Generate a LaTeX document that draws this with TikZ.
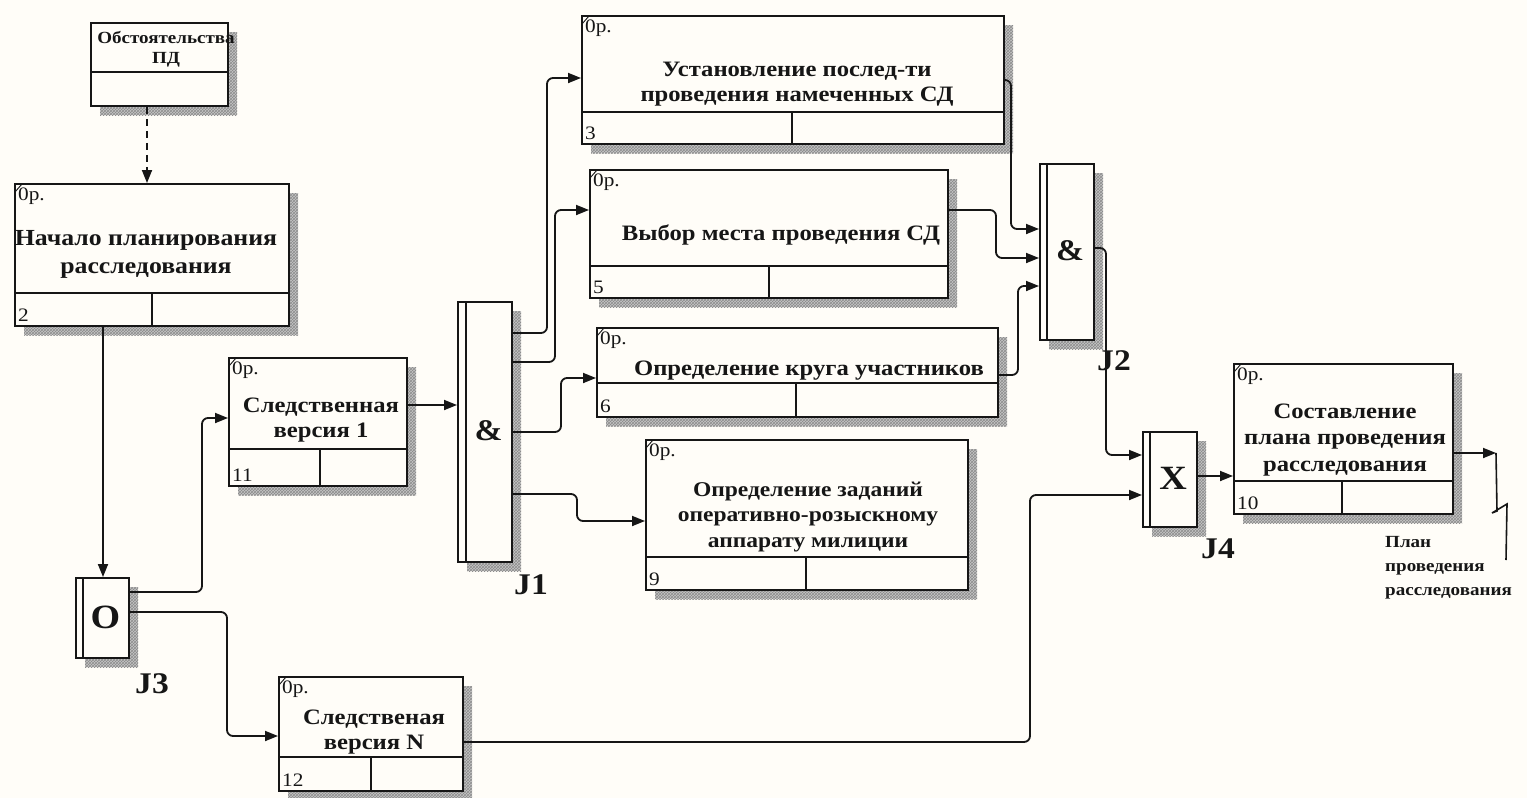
\documentclass[tikz,border=0pt]{standalone}
\usepackage{fontspec}
\setmainfont{Liberation Serif}[FakeStretch=1.12]
\usetikzlibrary{arrows.meta,patterns}

\definecolor{paper}{RGB}{255,253,248}
\definecolor{ink}{RGB}{22,22,22}

\tikzset{
  every node/.style={text=ink},
  boxshape/.style={draw=ink, line width=1.9pt, fill=paper, anchor=north west, inner sep=0pt},
  hatch/.style={fill=gray!45, postaction={pattern=crosshatch, pattern color=gray!90}},
  conn/.style={draw=ink, line width=1.8pt, rounded corners=6pt, -{Triangle[length=13pt,width=10pt]}},
  title/.style={font=\bfseries\fontsize{22}{24.5}\selectfont, align=center, inner sep=0pt},
  bigtitle/.style={font=\bfseries\fontsize{23}{28}\selectfont, align=center, inner sep=0pt},
  small/.style={font=\fontsize{19}{21}\selectfont, inner sep=0pt},
  jsym/.style={font=\bfseries\fontsize{30}{32}\selectfont, inner sep=0pt},
  jlabel/.style={font=\bfseries\fontsize{30}{32}\selectfont, inner sep=0pt},
  note/.style={font=\bfseries\fontsize{17}{20}\selectfont, align=left, inner sep=0pt},
}

% unit of work: name, x1, y1, x2, y2, row divider y, column divider x, number
\newcommand{\uow}[8]{%
  \fill[hatch] (#2+10,#3+10) rectangle (#4+10,#5+10);
  \node[boxshape, minimum width={(#4-#2)*1pt}, minimum height={(#5-#3)*1pt}] (#1) at (#2,#3) {};
  \draw[draw=ink, line width=1.9pt] (#1.west |- 0,#6) -- (#1.east |- 0,#6);
  \draw[draw=ink, line width=1.9pt] (#7,#6) -- (#7,#5);
  \draw[draw=ink, line width=0.9pt] (#2+1,#3+9) -- (#2+8,#3+1);
  \node[small, anchor=north west] (#1-ref) at (#2+4,#3+5) {0р.};
  \node[small, anchor=south west] (#1-num) at (#2+4,#5-3) {#8};
}

% junction: name, x1, y1, x2, y2, inner bar x, symbol
\newcommand{\junc}[7]{%
  \fill[hatch] (#2+10,#3+10) rectangle (#4+10,#5+10);
  \node[boxshape, minimum width={(#4-#2)*1pt}, minimum height={(#5-#3)*1pt}] (#1) at (#2,#3) {};
  \draw[draw=ink, line width=1.6pt] (#6,#3) -- (#6,#5);
  \node[jsym] (#1-sym) at ({(#6+#4)/2},{(#3+#5)/2}) {#7};
}

\begin{document}
\begin{tikzpicture}[x=1pt, y=-1pt]
  \useasboundingbox (0,0) rectangle (1527,798);
  \fill[paper] (0,0) rectangle (1527,798);

  % referent box
  \fill[hatch] (100,32) rectangle (237,115);
  \node[boxshape, minimum width=137pt, minimum height=83pt] (obst) at (90,22) {};
  \draw[draw=ink, line width=1.9pt] (obst.west |- 0,72) -- (obst.east |- 0,72);
  \node[note, align=center] (obst-t) at (166,49) {Обстоятельства\\ПД};

  % units of work
  \uow{b2}{14}{183}{288}{325}{293}{152}{2}
  \node[bigtitle] (b2-t) at (146,254) {Начало планирования\\расследования};

  \uow{b11}{228}{357}{406}{485}{449}{320}{11}
  \node[title] (b11-t) at (321,420) {Следственная\\версия 1};

  \uow{b12}{278}{676}{462}{790}{757}{371}{12}
  \node[title] (b12-t) at (374,732) {Следствeная\\версия N};

  \uow{b3}{581}{15}{1003}{143}{112}{792}{3}
  \node[title] (b3-t) at (797,84) {Установление послед-ти\\проведения намеченных СД};

  \uow{b5}{589}{169}{947}{297}{266}{769}{5}
  \node[title] (b5-t) at (781,235) {Выбор места проведения СД};

  \uow{b6}{596}{327}{997}{416}{383}{796}{6}
  \node[title] (b6-t) at (809,371) {Определение круга участников};

  \uow{b9}{645}{439}{967}{589}{557}{806}{9}
  \node[title, font=\bfseries\fontsize{21}{25.5}\selectfont] (b9-t) at (808,517) {Определение заданий\\оперативно-розыскному\\аппарату милиции};

  \uow{b10}{1233}{363}{1452}{513}{481}{1342}{10}
  \node[title, font=\bfseries\fontsize{22}{26.5}\selectfont] (b10-t) at (1345,440) {Составление\\плана проведения\\расследования};

  % junctions
  \junc{j3}{75}{577}{128}{657}{83}{\fontsize{34}{36}\selectfont O}
  \node[jlabel] (j3-l) at (152,684) {J3};
  \junc{j1}{457}{301}{511}{561}{466}{\&}
  \node[jlabel] (j1-l) at (531,585) {J1};
  \junc{j2}{1039}{163}{1093}{339}{1047}{\&}
  \node[jlabel] (j2-l) at (1114,361) {J2};
  \junc{j4}{1142}{431}{1196}{526}{1150}{\fontsize{34}{36}\selectfont X}
  \node[jlabel] (j4-l) at (1218,549) {J4};

  % links
  \draw[conn, dash pattern=on 7pt off 5pt] (obst.south -| 147,0) -- (b2.north -| 147,0);
  \draw[conn] (b2.south -| 103,0) -- (j3.north -| 103,0);
  \draw[conn] (j3.east |- 0,592) -| (202,418) -- (b11.west |- 0,418);
  \draw[conn] (j3.east |- 0,612) -| (227,736) -- (b12.west |- 0,736);
  \draw[conn] (b11.east |- 0,405) -- (j1.west |- 0,405);
  \draw[conn] (j1.east |- 0,333) -| (547,78) -- (b3.west |- 0,78);
  \draw[conn] (j1.east |- 0,362) -| (555,210) -- (b5.west |- 0,210);
  \draw[conn] (j1.east |- 0,432) -| (561,378) -- (b6.west |- 0,378);
  \draw[conn] (j1.east |- 0,494) -| (577,521) -- (b9.west |- 0,521);
  \draw[conn] (b3.east |- 0,80) -| (1011,229) -- (j2.west |- 0,229);
  \draw[conn] (b5.east |- 0,210) -| (996,258) -- (j2.west |- 0,258);
  \draw[conn] (b6.east |- 0,375) -| (1018,286) -- (j2.west |- 0,286);
  \draw[conn] (j2.east |- 0,248) -| (1106,455) -- (j4.west |- 0,455);
  \draw[conn] (b12.east |- 0,742) -| (1030,495) -- (j4.west |- 0,495);
  \draw[conn] (j4.east |- 0,476) -- (b10.west |- 0,476);

  % output with its squiggle to the label
  \coordinate (outtip) at (1496,453);
  \draw[conn] (b10.east |- 0,453) -- (outtip);
  \node[note, anchor=north west, font=\bfseries\fontsize{17}{24}\selectfont] (plan) at (1385,536) {План\\проведения\\расследования};
  \draw[draw=ink, line width=1.6pt] (outtip) -- (1497,511) -- (1492,513) -- (1507,504) -- (1506,560);
\end{tikzpicture}
\end{document}
